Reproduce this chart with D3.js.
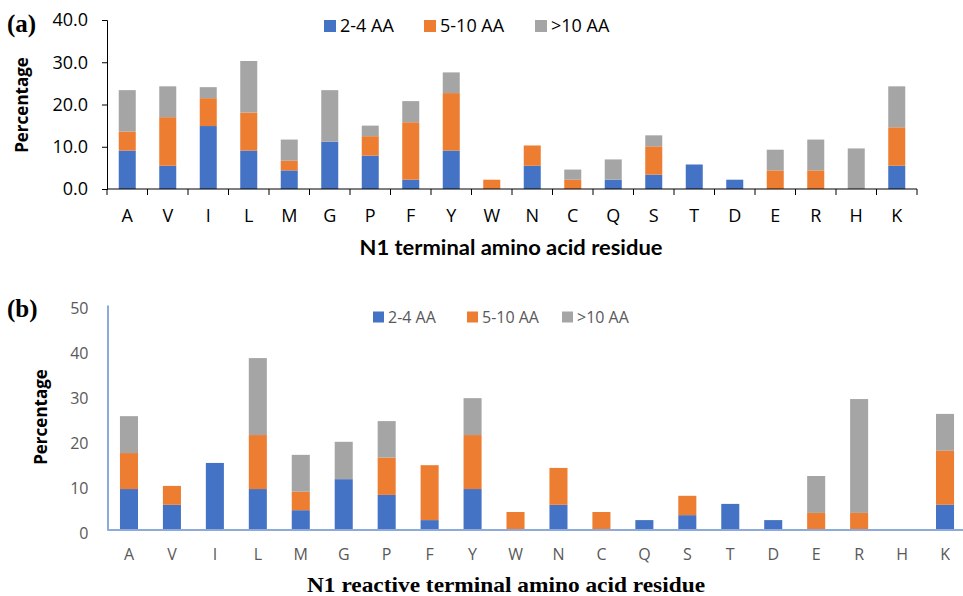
<!DOCTYPE html>
<html>
<head>
<meta charset="utf-8">
<script src="https://cdn.jsdelivr.net/npm/d3@7"></script>
<style>
  body { margin: 0; background: #fff; }
  svg { display: block; }
</style>
</head>
<body>
<svg id="chart" width="963" height="596"></svg>
<script>
// Categories and series
const residues = ["A","V","I","L","M","G","P","F","Y","W","N","C","Q","S","T","D","E","R","H","K"];
const seriesNames = ["2-4 AA", "5-10 AA", ">10 AA"];
const colors = ["#4472C4", "#ED7D31", "#A5A5A5"];

// Panel (a) values (segment heights)
const shortA = [9.1,5.5,14.9,9.1,4.4,11.2,7.9,2.2,9.1,0,5.5,0,2.2,3.4,5.8,2.2,0,0,0,5.5];
const midA   = [4.5,11.5,6.6,9.0,2.3,0,4.6,13.6,13.6,2.2,4.8,2.2,0,6.7,0,0,4.4,4.4,0,9.1];
const longA  = [9.8,7.3,2.6,12.2,5.0,12.2,2.5,5.0,4.9,0,0,2.4,4.8,2.6,0,0,4.9,7.3,9.6,9.7];
const ticksA = [0, 10, 20, 30, 40];

// Panel (b) values
const shortB = [9.1,5.6,14.9,9.1,4.4,11.3,7.8,2.2,9.1,0,5.6,0,2.2,3.3,5.8,2.2,0,0,0,5.6];
const midB   = [8.0,4.2,0,12.0,4.1,0,8.3,12.2,12.0,4.0,8.2,4.0,0,4.3,0,0,3.8,3.8,0,12.0];
const longB  = [8.2,0,0,17.1,8.2,8.3,8.1,0,8.2,0,0,0,0,0,0,0,8.2,25.3,0,8.2];
const ticksB = [0, 10, 20, 30, 40, 50];

const svg = d3.select("#chart");

function buildRows(s, m, l) {
  return residues.map((r, i) => ({ res: r, "2-4 AA": s[i], "5-10 AA": m[i], ">10 AA": l[i] }));
}

function drawPanel(opt) {
  const rows = buildRows(opt.s, opt.m, opt.l);
  const stack = d3.stack().keys(seriesNames)(rows);

  const x = d3.scaleBand().domain(residues).range([opt.x0, opt.x1]).paddingInner(0.58).paddingOuter(0.29);
  const xTicks = d3.scaleBand().domain(residues).range([opt.x0, opt.x1]);
  const y = d3.scaleLinear().domain([0, opt.ymax]).range([opt.y0, opt.ytop]);

  const g = svg.append("g");

  // bars
  g.selectAll("g.series")
    .data(stack)
    .enter()
    .append("g")
    .attr("fill", (d, i) => colors[i])
    .selectAll("rect")
    .data(d => d)
    .enter()
    .append("rect")
    .attr("x", d => x(d.data.res))
    .attr("width", x.bandwidth())
    .attr("y", d => y(d[1]))
    .attr("height", d => y(d[0]) - y(d[1]));

  // y axis
  const yAxis = g.append("g")
    .attr("transform", `translate(${opt.x0},0)`)
    .call(d3.axisLeft(y).tickValues(opt.ticks)
      .tickFormat(opt.fmt)
      .tickSize(opt.yTick)
      .tickPadding(opt.yPad));
  yAxis.select(".domain").attr("stroke", opt.axisColor).attr("stroke-width", opt.axisWidth);
  yAxis.selectAll(".tick line").attr("stroke", opt.axisColor);
  yAxis.selectAll("text")
    .attr("font-family", "'Open Sans', sans-serif")
    .attr("font-size", opt.yFont)
    .attr("fill", opt.textColor)
    .attr("dy", opt.yDy);

  // x axis
  const xAxis = g.append("g").attr("transform", `translate(0,${opt.y0})`);
  xAxis.append("line")
    .attr("x1", opt.x0).attr("x2", opt.x1)
    .attr("y1", 0).attr("y2", 0)
    .attr("stroke", opt.axisColor).attr("stroke-width", opt.axisWidth);
  if (opt.xTickLen > 0) {
    xAxis.selectAll("line.tk")
      .data(residues.concat(["end"]))
      .enter()
      .append("line")
      .attr("class", "tk")
      .attr("x1", d => d === "end" ? opt.x1 : xTicks(d))
      .attr("x2", d => d === "end" ? opt.x1 : xTicks(d))
      .attr("y1", 0).attr("y2", opt.xTickLen)
      .attr("stroke", opt.axisColor);
  }
  xAxis.selectAll("text")
    .data(residues)
    .enter()
    .append("text")
    .attr("x", d => xTicks(d) + xTicks.bandwidth() / 2)
    .attr("y", opt.xLabelY - opt.y0)
    .attr("text-anchor", "middle")
    .attr("font-family", "'Open Sans', sans-serif")
    .attr("font-size", opt.xFont)
    .attr("fill", opt.textColor)
    .text(d => d);

  // axis titles
  svg.append("text")
    .attr("x", opt.titleX - opt.titleLen / 2).attr("y", opt.titleY)
    .attr("textLength", opt.titleLen)
    .attr("lengthAdjust", "spacingAndGlyphs")
    .attr("font-family", opt.titleFamily)
    .attr("font-weight", "bold")
    .attr("font-size", opt.titleFont)
    .attr("fill", "#000")
    .text(opt.title);

  svg.append("text")
    .attr("transform", `translate(${opt.yTitleX},${opt.yTitleY}) rotate(-90)`)
    .attr("text-anchor", "middle")
    .attr("font-family", "'Open Sans', sans-serif")
    .attr("font-weight", "bold")
    .attr("font-size", 17)
    .attr("fill", "#000")
    .text("Percentage");

  // panel letter
  svg.append("text")
    .attr("x", 7).attr("y", opt.letterY)
    .attr("font-family", "'Liberation Serif', serif")
    .attr("font-weight", "bold")
    .attr("font-size", 25)
    .attr("fill", "#000")
    .text(opt.letter);

  // legend
  const leg = svg.append("g");
  opt.legendX.forEach((lx, i) => {
    leg.append("rect")
      .attr("x", lx).attr("y", opt.legendY - opt.sq / 2)
      .attr("width", opt.sq).attr("height", opt.sq)
      .attr("fill", colors[i]);
    leg.append("text")
      .attr("x", lx + opt.sq + 4).attr("y", opt.legendY)
      .attr("dy", "0.35em")
      .attr("font-family", "'Open Sans', sans-serif")
      .attr("font-size", opt.legFont)
      .attr("fill", opt.textColor)
      .text(seriesNames[i]);
  });
}

drawPanel({
  s: shortA, m: midA, l: longA, ticks: ticksA, ymax: 40,
  x0: 107, x1: 917, y0: 189, ytop: 20,
  fmt: d3.format(".1f"), yTick: 5, yPad: 14, yFont: 18, yDy: "0.32em",
  axisColor: "#000", axisWidth: 1, textColor: "#000",
  xTickLen: 6, xLabelY: 222, xFont: 18,
  title: "N1 terminal amino acid residue", titleX: 511, titleY: 255, titleLen: 303,
  titleFamily: "Lato, 'Open Sans', sans-serif", titleFont: 21,
  yTitleX: 28, yTitleY: 105,
  letter: "(a)", letterY: 32,
  legendX: [324, 424, 535], legendY: 26, sq: 12, legFont: 18
});

drawPanel({
  s: shortB, m: midB, l: longB, ticks: ticksB, ymax: 50,
  x0: 107.5, x1: 966.5, y0: 530, ytop: 305,
  fmt: d3.format("d"), yTick: 0, yPad: 19, yFont: 16, yDy: "0.55em",
  axisColor: "#8EAADB", axisWidth: 2, textColor: "#595959",
  xTickLen: 0, xLabelY: 560, xFont: 16,
  title: "N1 reactive terminal amino acid residue", titleX: 506, titleY: 592, titleLen: 398,
  titleFamily: "'Liberation Serif', serif", titleFont: 21,
  yTitleX: 47, yTitleY: 417,
  letter: "(b)", letterY: 317,
  legendX: [373, 467, 562], legendY: 317, sq: 11, legFont: 16
});
</script>
</body>
</html>
